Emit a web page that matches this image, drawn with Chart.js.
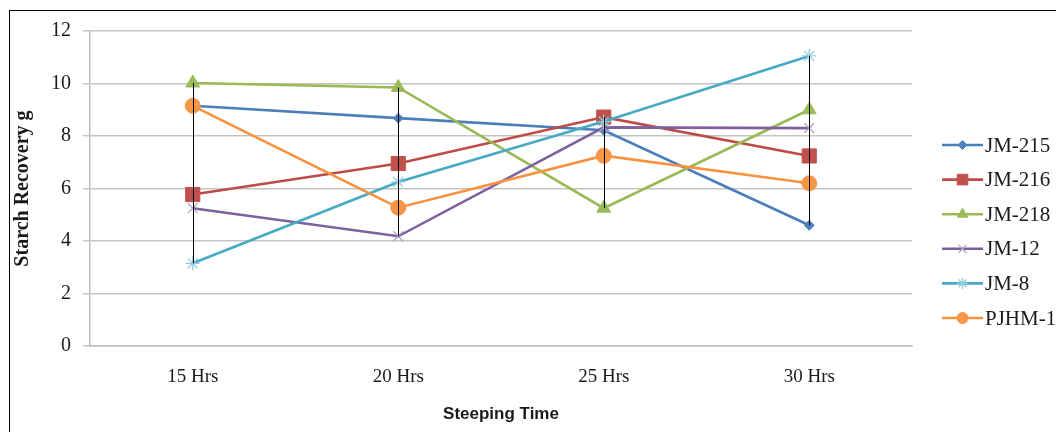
<!DOCTYPE html>
<html>
<head>
<meta charset="utf-8">
<script src="https://cdn.jsdelivr.net/npm/chart.js@4.4.1/dist/chart.umd.min.js"></script>
<style>
  html, body { margin: 0; padding: 0; background: #ffffff; }
  #wrap { width: 1056px; height: 432px; position: relative; }
</style>
</head>
<body>
<div id="wrap"><canvas id="chart" width="1056" height="432"></canvas></div>
<script>
// Steeping time categories
const categories = ['15 Hrs', '20 Hrs', '25 Hrs', '30 Hrs'];

// Starch recovery (g) per variety
const jm215 = [9.15, 8.68, 8.22, 4.60];
const jm216 = [5.77, 6.95, 8.72, 7.24];
const jm218 = [10.02, 9.85, 5.25, 9.00];
const jm12  = [5.25, 4.18, 8.33, 8.30];
const jm8   = [3.15, 6.25, 8.55, 11.05];
const pjhm1 = [9.15, 5.27, 7.25, 6.20];

// Value axis ticks
const yTicks = [0, 2, 4, 6, 8, 10, 12];

const seriesNames = ['JM-215', 'JM-216', 'JM-218', 'JM-12', 'JM-8', 'PJHM-1'];
const seriesValues = [jm215, jm216, jm218, jm12, jm8, pjhm1];

const lineColors   = ['#4a7ebb', '#be4b48', '#98b954', '#7d60a0', '#46aac5', '#f69240'];
const markerFills  = ['#4f81bd', '#c0504d', '#9bbb59', '#b3a2c7', '#93cddd', '#f79646'];
const markerStyles = ['rectRot', 'rect', 'triangle', 'crossRot', 'star', 'circle'];
const markerRadii  = [5, 10, 8, 7, 7, 7.5];

const isThin = s => s === 'crossRot' || s === 'star';

const datasets = seriesNames.map((name, i) => ({
  label: name,
  data: seriesValues[i],
  borderColor: lineColors[i],
  backgroundColor: markerFills[i],
  borderWidth: 2.6,
  pointStyle: markerStyles[i],
  pointRadius: markerRadii[i],
  pointHoverRadius: markerRadii[i],
  pointBackgroundColor: markerFills[i],
  pointBorderColor: markerFills[i],
  pointBorderWidth: isThin(markerStyles[i]) ? 1.3 : 1,
  tension: 0,
  fill: false,
  order: seriesNames.length - i
}));

// White page with a thin frame around the chart
const framePlugin = {
  id: 'frame',
  beforeDraw(chart) {
    const ctx = chart.ctx;
    ctx.save();
    ctx.fillStyle = '#ffffff';
    ctx.fillRect(0, 0, chart.width, chart.height);
    ctx.strokeStyle = '#000000';
    ctx.lineWidth = 1;
    ctx.strokeRect(9.5, 10.5, chart.width + 10, chart.height + 10);
    ctx.restore();
  }
};

// Vertical high-low lines joining the highest and lowest value of each category
const highLowPlugin = {
  id: 'highLow',
  afterDatasetsDraw(chart) {
    const ctx = chart.ctx;
    const xs = chart.scales.x, ys = chart.scales.y;
    ctx.save();
    ctx.strokeStyle = '#000000';
    ctx.lineWidth = 1;
    categories.forEach((c, j) => {
      const vals = seriesValues.map(s => s[j]);
      const hi = Math.max(...vals), lo = Math.min(...vals);
      const x = Math.round(xs.getPixelForValue(j)) + 0.5;
      ctx.beginPath();
      ctx.moveTo(x, ys.getPixelForValue(hi));
      ctx.lineTo(x, ys.getPixelForValue(lo));
      ctx.stroke();
    });
    ctx.restore();
  }
};

// Series key on the right-hand side
const keyPlugin = {
  id: 'seriesKey',
  afterDraw(chart) {
    const ctx = chart.ctx;
    const x0 = 942, x1 = 983, top = 145, step = 34.6;
    ctx.save();
    chart.data.datasets.forEach((ds, i) => {
      const y = top + i * step;
      ctx.strokeStyle = ds.borderColor;
      ctx.lineWidth = 2.6;
      ctx.beginPath();
      ctx.moveTo(x0, y);
      ctx.lineTo(x1, y);
      ctx.stroke();
      const cx = (x0 + x1) / 2;
      ctx.fillStyle = ds.pointBackgroundColor;
      ctx.strokeStyle = ds.pointBorderColor;
      ctx.lineWidth = ds.pointBorderWidth;
      const r = ds.pointStyle === 'rect' ? 7.5 : ds.pointStyle === 'rectRot' ? 4.5 : ds.pointStyle === 'triangle' ? 6 : 5.5;
      if (Chart.helpers && Chart.helpers.drawPoint) {
        Chart.helpers.drawPoint(ctx, {pointStyle: ds.pointStyle, radius: r, borderWidth: ds.pointBorderWidth, rotation: 0}, cx, y);
      }
      ctx.fillStyle = '#1a1a1a';
      ctx.font = '21px "Liberation Serif", "Times New Roman", serif';
      ctx.textBaseline = 'middle';
      ctx.textAlign = 'left';
      ctx.fillText(ds.label, x1 + 2, y + 1);
    });
    ctx.restore();
  }
};

new Chart(document.getElementById('chart'), {
  type: 'line',
  data: { labels: categories, datasets },
  plugins: [framePlugin, highLowPlugin, keyPlugin],
  options: {
    responsive: false,
    animation: false,
    events: [],
    layout: { padding: { top: 31, right: 144, bottom: 0, left: 0 } },
    plugins: {
      legend: { display: false },
      tooltip: { enabled: false }
    },
    scales: {
      x: {
        type: 'category',
        offset: true,
        grid: { display: false, drawTicks: false, offset: true },
        border: { display: true, color: '#bdbdbd', width: 1.5 },
        ticks: {
          padding: 20,
          color: '#1a1a1a',
          font: { family: '"Liberation Serif", "Times New Roman", serif', size: 19 },
          maxRotation: 0
        },
        title: {
          display: true,
          text: 'Steeping Time',
          color: '#1a1a1a',
          font: { family: '"Liberation Sans", Arial, sans-serif', size: 17, weight: 'bold' },
          padding: { top: 0, bottom: 7 }
        },
        afterFit(scale) { scale.height = 86; }
      },
      y: {
        min: 0,
        max: 12,
        afterBuildTicks(scale) { scale.ticks = yTicks.map(v => ({ value: v })); },
        grid: { color: '#c4c4c4', lineWidth: 1.5, tickLength: 7, drawTicks: true },
        border: { display: true, color: '#bdbdbd', width: 1.5 },
        ticks: {
          padding: 12,
          color: '#1a1a1a',
          font: { family: '"Liberation Serif", "Times New Roman", serif', size: 20 }
        },
        title: {
          display: true,
          text: 'Starch Recovery g',
          color: '#1a1a1a',
          font: { family: '"Liberation Serif", "Times New Roman", serif', size: 20, weight: 'bold' },
          padding: { top: 11, bottom: 0 }
        },
        afterFit(scale) { scale.width = 90; }
      }
    }
  }
});
</script>
</body>
</html>
